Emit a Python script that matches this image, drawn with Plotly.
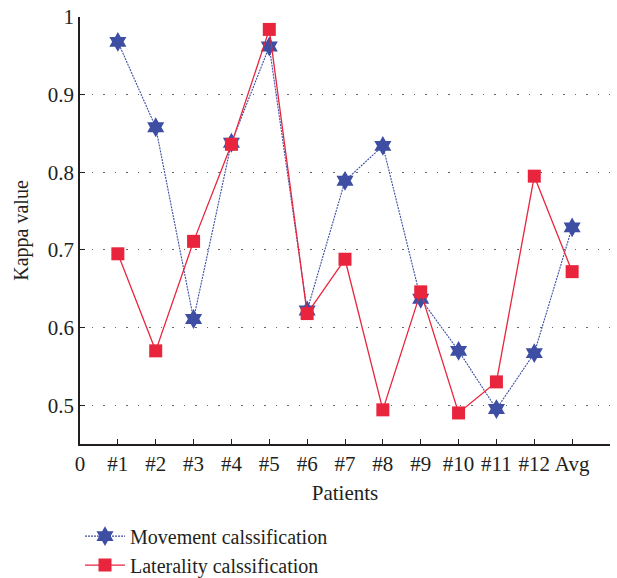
import plotly.graph_objects as go

categories = ["#1", "#2", "#3", "#4", "#5", "#6", "#7", "#8", "#9", "#10", "#11", "#12", "Avg"]
movement = [0.968, 0.858, 0.611, 0.838, 0.962, 0.622, 0.789, 0.834, 0.637, 0.570, 0.495, 0.567, 0.729]
laterality = [0.695, 0.570, 0.711, 0.836, 0.984, 0.618, 0.688, 0.494, 0.646, 0.490, 0.530, 0.795, 0.672]
x_tick_labels = ["0"] + categories
y_ticks = [0.5, 0.6, 0.7, 0.8, 0.9, 1.0]
y_tick_labels = ["0.5", "0.6", "0.7", "0.8", "0.9", "1"]

xpos = list(range(1, len(categories) + 1))

blue = "#3d4ea3"
red = "#e8253d"
font = "Liberation Serif"
txt = "#231f20"

fig = go.Figure()
fig.add_trace(go.Scatter(
    x=xpos, y=movement, mode="lines+markers", name="Movement calssification",
    line=dict(color=blue, width=1.1, dash="2px,1px"),
    marker=dict(symbol="hexagram", size=15, color=blue, line=dict(width=0)),
))
fig.add_trace(go.Scatter(
    x=xpos, y=laterality, mode="lines+markers", name="Laterality calssification",
    line=dict(color=red, width=1.3),
    marker=dict(symbol="square", size=13, color=red, line=dict(width=0)),
))

fig.update_layout(
    width=617, height=578,
    margin=dict(l=80, r=7, t=17, b=134, autoexpand=False),
    paper_bgcolor="white", plot_bgcolor="white",
    font=dict(family=font, size=20, color=txt),
    showlegend=True,
    legend=dict(x=0, y=-0.17, xanchor="left", yanchor="top",
                font=dict(family=font, size=20, color=txt),
                bgcolor="rgba(0,0,0,0)", itemwidth=40, tracegroupgap=0),
    xaxis=dict(
        range=[0, 14], tickmode="array", tickvals=list(range(0, 14)), ticktext=x_tick_labels,
        showgrid=False, zeroline=False, showline=True, linecolor=txt, linewidth=1.5,
        ticks="inside", ticklen=5, tickcolor=txt, automargin=False,
        title=dict(text="Patients", font=dict(family=font, size=21), standoff=10),
        tickfont=dict(family=font, size=21),
    ),
    yaxis=dict(
        range=[0.45, 1.0], tickmode="array", tickvals=y_ticks, ticktext=y_tick_labels,
        showgrid=True, gridcolor="#666666", griddash="1.5px,10px", gridwidth=1.2,
        zeroline=False, showline=True, linecolor=txt, linewidth=1.5,
        ticks="inside", ticklen=5, tickcolor=txt, automargin=False,
        title=dict(text="Kappa value", font=dict(family=font, size=20), standoff=14),
        tickfont=dict(family=font, size=21),
    ),
)

fig.write_html("out.html")
